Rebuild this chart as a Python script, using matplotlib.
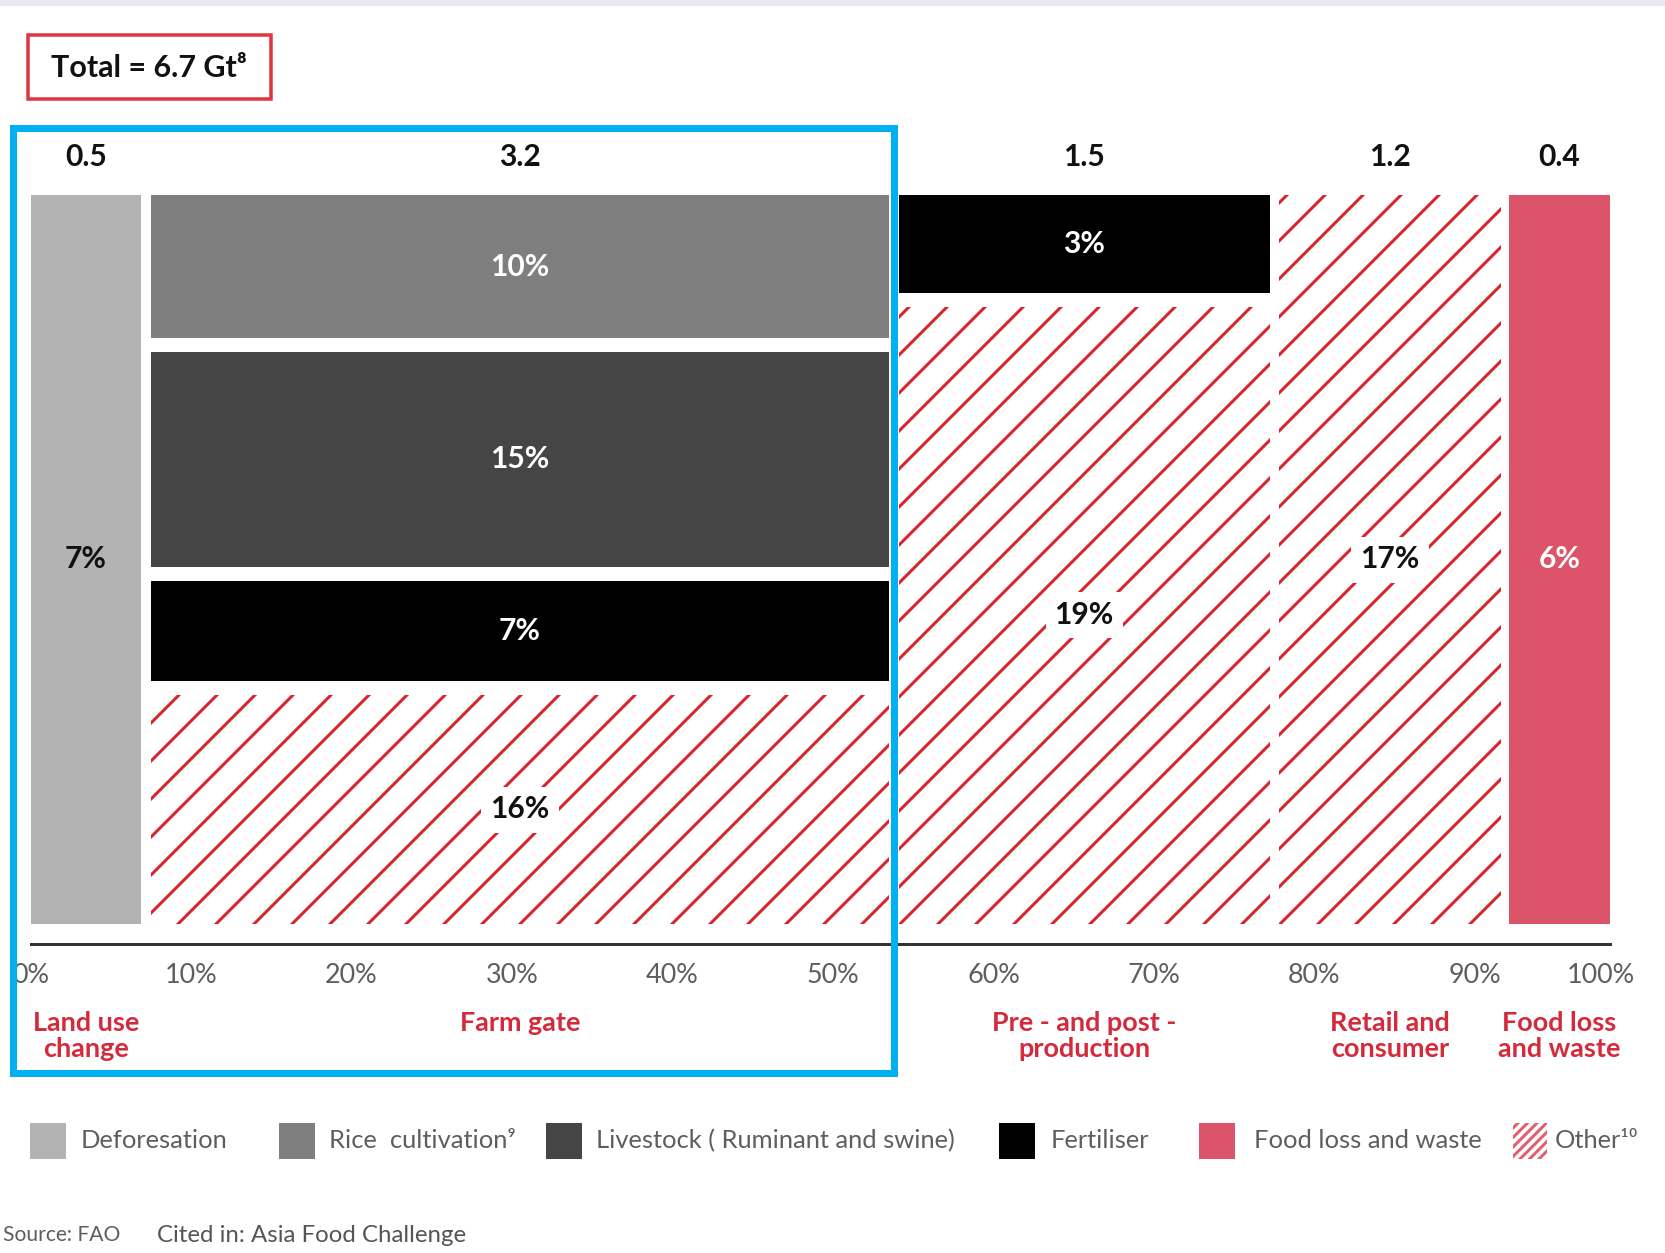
import matplotlib
matplotlib.use("Agg")
import matplotlib.pyplot as plt
from matplotlib.patches import Rectangle
import matplotlib.transforms as mtransforms

# ---------------- data ----------------
columns = ["Land use\nchange", "Farm gate", "Pre - and post -\nproduction",
           "Retail and\nconsumer", "Food loss\nand waste"]
column_totals = ["0.5", "3.2", "1.5", "1.2", "0.4"]          # Gt CO2e
column_start = [0.0, 7.5, 54.1, 77.8, 92.1]                   # % of x axis
column_width = [6.9, 46.0, 23.1, 13.8, 6.3]                   # % of x axis
segment_sources = [
    ["Deforesation"],
    ["Rice  cultivation⁹", "Livestock ( Ruminant and swine)", "Fertiliser", "Other¹⁰"],
    ["Fertiliser", "Other¹⁰"],
    ["Other¹⁰"],
    ["Food loss and waste"],
]
segment_values = [[7], [10, 15, 7, 16], [3, 19], [17], [6]]   # % of total
x_ticks = [0, 10, 20, 30, 40, 50, 60, 70, 80, 90, 100]
x_tick_labels = ["0%", "10%", "20%", "30%", "40%", "50%", "60%", "70%", "80%", "90%", "100%"]
legend_labels = ["Deforesation", "Rice  cultivation⁹", "Livestock ( Ruminant and swine)",
                 "Fertiliser", "Food loss and waste", "Other¹⁰"]
total_label = "Total = 6.7 Gt⁸"

# ---------------- style ----------------
W, H, DPI = 1665, 1253, 228
def pt(px):
    return px * 72.0 / DPI

RED_HATCH = "#d8232e"
RED_TEXT = "#d42a3c"
LIGHT_TXT = "#5e5e5e"
styles = {
    "Deforesation": dict(fc="#b3b3b3", hatch=None, tc="#111111"),
    "Rice  cultivation⁹": dict(fc="#7f7f7f", hatch=None, tc="white"),
    "Livestock ( Ruminant and swine)": dict(fc="#454545", hatch=None, tc="white"),
    "Fertiliser": dict(fc="#000000", hatch=None, tc="white"),
    "Food loss and waste": dict(fc="#db5469", hatch=None, tc="white"),
    "Other¹⁰": dict(fc="white", hatch="//", tc="#111111"),
}
FAM = ["Lato", "DejaVu Sans"]
plt.rcParams["font.family"] = FAM
plt.rcParams["hatch.linewidth"] = pt(3.0)

fig = plt.figure(figsize=(W / DPI, H / DPI), dpi=DPI)
fig.patch.set_facecolor("white")

ax = fig.add_axes([30.5 / W, 1 - 924 / H, 1605 / W, 729 / H])
ax.set_xlim(0, 100)
ax.set_ylim(0, 1)

gap = 14 / 729.0
fig_y = lambda: mtransforms.blended_transform_factory(ax.transData, fig.transFigure)
for ci, (srcs, vals) in enumerate(zip(segment_sources, segment_values)):
    n = len(vals)
    usable = 1 - gap * (n - 1)
    tot = float(sum(vals))
    ytop = 1.0
    x0 = column_start[ci]
    w = column_width[ci]
    for s, v in zip(srcs, vals):
        h = usable * v / tot
        st = styles[s]
        if st["hatch"]:
            ax.bar(x0, h, width=w, bottom=ytop - h, align="edge", facecolor="white",
                   edgecolor=RED_HATCH, hatch=st["hatch"], linewidth=0)
        else:
            ax.bar(x0, h, width=w, bottom=ytop - h, align="edge", color=st["fc"], linewidth=0)
        kw = {}
        if st["hatch"]:
            kw["bbox"] = dict(facecolor="white", edgecolor="none", pad=pt(9))
        ax.text(x0 + w / 2, ytop - h / 2, f"{v}%", ha="center", va="center",
                color=st["tc"], fontsize=pt(30), fontweight="bold", **kw)
        ytop -= h + gap

    ax.text(x0 + w / 2, 1 - 157 / H, column_totals[ci], transform=fig_y(),
            ha="center", va="center", fontsize=pt(30), fontweight="bold", color="#111111")
    ax.text(x0 + w / 2, 1 - 1011 / H, columns[ci], transform=fig_y(),
            ha="center", va="top", fontsize=pt(27), fontweight="bold", color=RED_TEXT,
            linespacing=1.12)

for side in ("top", "left", "right"):
    ax.spines[side].set_visible(False)
ax.spines["bottom"].set_position(("outward", pt(20)))
ax.spines["bottom"].set_bounds(0, column_start[-1] + column_width[-1])
ax.spines["bottom"].set_linewidth(pt(3))
ax.spines["bottom"].set_color("#333333")
ax.set_yticks([])
ax.set_xticks(x_ticks, x_tick_labels)
ax.tick_params(axis="x", length=0, pad=pt(19), labelsize=pt(27), labelcolor=LIGHT_TXT)
ax.get_xticklabels()[-1].set_horizontalalignment("right")
ax.patch.set_visible(False)

# top strip
fig.add_artist(Rectangle((0, 1 - 6 / H), 1, 6 / H, transform=fig.transFigure,
                         facecolor="#e6eaee", edgecolor="none"))
# total box
fig.add_artist(Rectangle((28 / W, 1 - 99 / H), 243 / W, 64 / H, transform=fig.transFigure,
                         fill=False, edgecolor="#e0353f", linewidth=pt(3.5)))
fig.text(149 / W, 1 - 68 / H, total_label, ha="center", va="center",
         fontsize=pt(30.5), fontweight="bold", color="#111111")
# blue highlight box
fig.add_artist(Rectangle((13 / W, 1 - 1073 / H), (894 - 13) / W, (1073 - 128) / H,
                         transform=fig.transFigure, fill=False, edgecolor="#00b0f0",
                         linewidth=pt(7)))

# legend
leg_x = [30, 279, 546, 999, 1199, 1513]
leg_off = [51, 50, 50, 52, 55, 42]
ly = 1141
for lx, off, lab in zip(leg_x, leg_off, legend_labels):
    st = styles[lab]
    if st["hatch"]:
        fig.add_artist(Rectangle((lx / W, 1 - (ly + 18) / H), 34 / W, 36 / H,
                                 transform=fig.transFigure, facecolor="white",
                                 edgecolor="#e06070", hatch="////////", linewidth=0))
    else:
        fig.add_artist(Rectangle((lx / W, 1 - (ly + 18) / H), 36 / W, 36 / H,
                                 transform=fig.transFigure, facecolor=st["fc"],
                                 edgecolor="none"))
    fig.text((lx + off) / W, 1 - ly / H, lab, ha="left", va="center",
             fontsize=pt(25.5), color=LIGHT_TXT)

# source
fig.text(3 / W, 1 - 1235 / H, "Source: FAO", ha="left", va="center",
         fontsize=pt(21), color=LIGHT_TXT)
fig.text(157 / W, 1 - 1235 / H, "Cited in: Asia Food Challenge", ha="left", va="center",
         fontsize=pt(24), color="#555555")

fig.savefig("out.png", dpi=DPI)
